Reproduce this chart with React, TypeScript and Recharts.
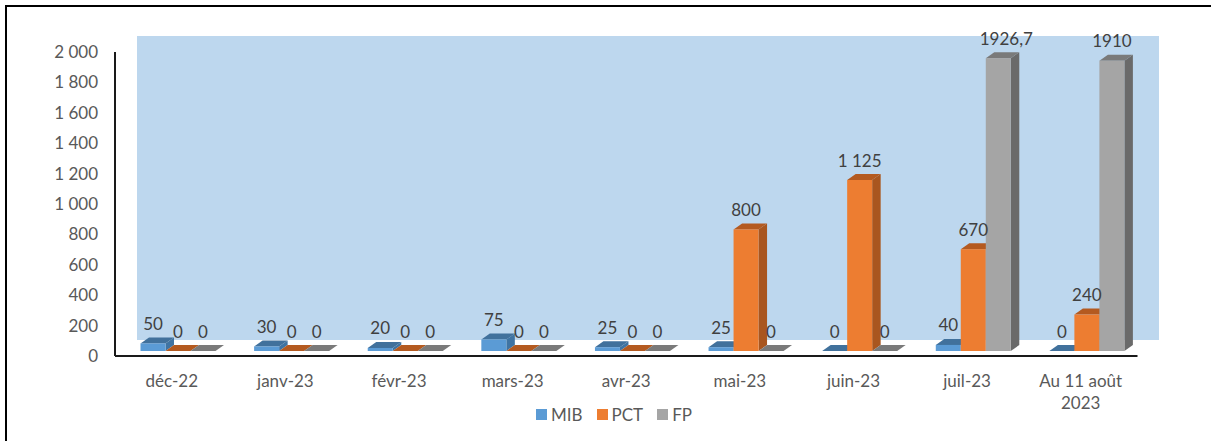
import React from "react";
import { BarChart, Bar, XAxis, YAxis, Legend, LabelList } from "recharts";

const categories = ["déc-22", "janv-23", "févr-23", "mars-23", "avr-23", "mai-23", "juin-23", "juil-23", "Au 11 août\n2023"];
const mib = [50, 30, 20, 75, 25, 25, 0, 40, 0];
const pct = [0, 0, 0, 0, 0, 800, 1125, 670, 240];
const fp = [0, 0, 0, 0, 0, 0, 0, 1926.7, 1910];
const mibLabels = ["50", "30", "20", "75", "25", "25", "0", "40", "0"];
const pctLabels = ["0", "0", "0", "0", "0", "800", "1 125", "670", "240"];
const fpLabels = ["0", "0", "0", "0", "0", "0", "0", "1926,7", "1910"];
const yTicks = [0, 200, 400, 600, 800, 1000, 1200, 1400, 1600, 1800, 2000];

const data = categories.map((name, i) => ({
  name,
  MIB: mib[i],
  PCT: pct[i],
  FP: fp[i],
  mibLabel: mibLabels[i],
  pctLabel: pctLabels[i],
  fpLabel: fpLabels[i],
}));

const FONT = "Lato, Carlito, sans-serif";
const TEXT = "#595959";
const LABEL = "#404040";
const SHIFT_X = 6.5;
const LIFT = 5;
const DX = 8.5;
const DY = 6;

const shades: Record<string, { top: string; side: string }> = {
  "#5B9BD5": { top: "#41719C", side: "#3F74A3" },
  "#ED7D31": { top: "#B45A20", side: "#A9561F" },
  "#A5A5A5": { top: "#7A7A7A", side: "#6A6A6A" },
};

function Bar3D(props: any) {
  const { x, y, width, height, fill } = props;
  const l = x + SHIFT_X;
  const r = l + width;
  const t = y - LIFT;
  const b = t + height;
  const s = shades[fill];
  return (
    <g>
      <polygon points={`${r},${t} ${r + DX},${t - DY} ${r + DX},${b - DY} ${r},${b}`} fill={s.side} />
      <polygon points={`${l},${t} ${l + DX},${t - DY} ${r + DX},${t - DY} ${r},${t}`} fill={s.top} />
      {height > 0 ? <rect x={l} y={t} width={width} height={height} fill={fill} /> : null}
    </g>
  );
}

function DataLabel(props: any) {
  const { x, y, width, value } = props;
  const nudge = value === "1926,7" ? 8 : 0;
  return (
    <text
      x={x + SHIFT_X + width / 2 + nudge}
      y={y - LIFT - 20}
      textAnchor="middle"
      dominantBaseline="central"
      fontFamily={FONT}
      fontSize={17}
      fill={LABEL}
    >
      {value}
    </text>
  );
}

function XTick(props: any) {
  const { x, y, payload } = props;
  const lines = String(payload.value).split("\n");
  return (
    <text x={x} textAnchor="middle" fontFamily={FONT} fontSize={17} fill={TEXT}>
      {lines.map((line: string, i: number) => (
        <tspan key={i} x={x} y={y + 23 + i * 22}>
          {line}
        </tspan>
      ))}
    </text>
  );
}

function LegendContent(props: any) {
  return (
    <div style={{ display: "flex", justifyContent: "center", gap: 14, fontFamily: FONT, fontSize: 17, color: TEXT }}>
      {props.payload.map((p: any) => (
        <span key={p.value} style={{ display: "flex", alignItems: "center", gap: 4 }}>
          <span style={{ width: 11, height: 11, background: p.color, display: "inline-block" }} />
          {p.value}
        </span>
      ))}
    </div>
  );
}

const formatY = (v: number) => (v >= 1000 ? `${Math.floor(v / 1000)} ${String(v % 1000).padStart(3, "0")}` : String(v));

export default function App() {
  return (
    <div style={{ position: "absolute", left: 0, top: 0, width: 1211, height: 441, overflow: "hidden", background: "#fff" }}>
      <div style={{ position: "absolute", left: 5, top: 5, width: 1206, height: 436, borderLeft: "2px solid #000", borderTop: "2px solid #000", boxSizing: "border-box" }} />
      <div style={{ position: "absolute", left: 137, top: 36, width: 1022, height: 304, background: "#BDD7EE" }} />
      <div style={{ position: "absolute", left: 0, top: 0 }}>
        <BarChart
          width={1211}
          height={441}
          data={data}
          margin={{ top: 52, right: 73.5, bottom: 0, left: 0 }}
          barSize={25}
          barGap={0}
          style={{ background: "transparent" }}
        >
          <XAxis
            dataKey="name"
            height={85}
            interval={0}
            tickLine={false}
            axisLine={{ stroke: "#1a1a1a", strokeWidth: 2 }}
            tick={<XTick />}
          />
          <YAxis
            width={115}
            domain={[0, 2000]}
            ticks={yTicks}
            tickFormatter={formatY}
            tickLine={false}
            tickMargin={11}
            interval={0}
            axisLine={{ stroke: "#1a1a1a", strokeWidth: 2 }}
            tick={{ fontFamily: FONT, fontSize: 17, fill: TEXT }}
          />
          <Legend
            content={<LegendContent />}
            layout="horizontal"
            verticalAlign="middle"
            align="center"
            itemSorter={null}
            wrapperStyle={{ left: 0, width: 1228, top: 404, bottom: "auto" }}
          />
          <Bar dataKey="MIB" fill="#5B9BD5" shape={<Bar3D />} isAnimationActive={false}>
            <LabelList dataKey="mibLabel" content={<DataLabel />} />
          </Bar>
          <Bar dataKey="PCT" fill="#ED7D31" shape={<Bar3D />} isAnimationActive={false}>
            <LabelList dataKey="pctLabel" content={<DataLabel />} />
          </Bar>
          <Bar dataKey="FP" fill="#A5A5A5" shape={<Bar3D />} isAnimationActive={false}>
            <LabelList dataKey="fpLabel" content={<DataLabel />} />
          </Bar>
        </BarChart>
      </div>
    </div>
  );
}
